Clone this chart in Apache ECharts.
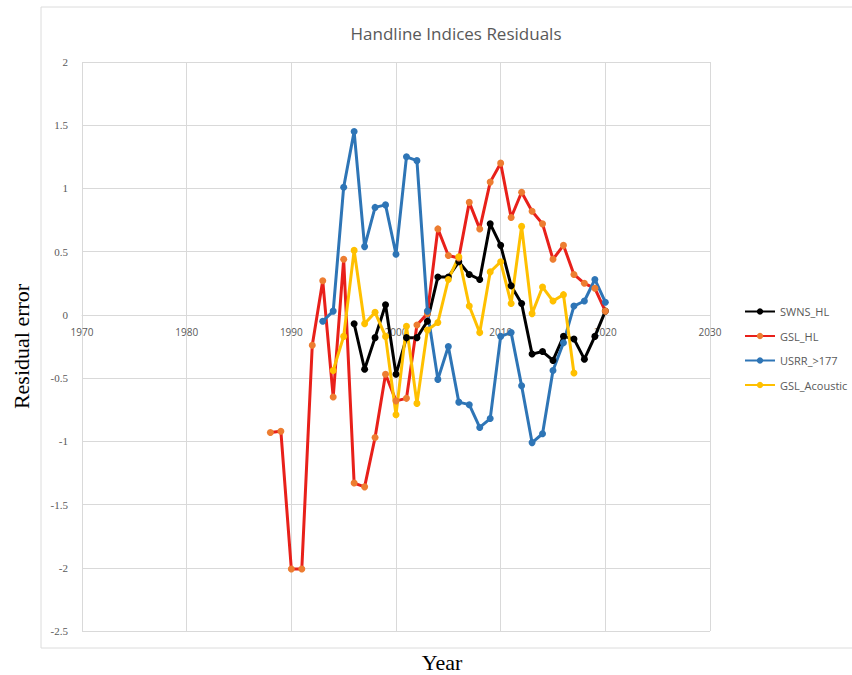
<!DOCTYPE html>
<html>
<head>
<meta charset="utf-8">
<script src="https://cdn.jsdelivr.net/npm/echarts@6/dist/echarts.min.js"></script>
<style>
html,body{margin:0;padding:0;background:#fff;}
#c{width:852px;height:675px;}
</style>
</head>
<body>
<div id="c"></div>
<script>
var xTicks = [1970, 1980, 1990, 2000, 2010, 2020, 2030];
var yTicks = [-2.5, -2, -1.5, -1, -0.5, 0, 0.5, 1, 1.5, 2];

var swnsYears = [1996,1997,1998,1999,2000,2001,2002,2003,2004,2005,2006,2007,2008,2009,2010,2011,2012,2013,2014,2015,2016,2017,2018,2019,2020];
var swnsValues = [-0.07,-0.43,-0.18,0.08,-0.47,-0.18,-0.18,-0.05,0.30,0.30,0.42,0.32,0.28,0.72,0.55,0.23,0.09,-0.31,-0.29,-0.36,-0.17,-0.19,-0.35,-0.17,0.03];

var gslHlYears = [1988,1989,1990,1991,1992,1993,1994,1995,1996,1997,1998,1999,2000,2001,2002,2003,2004,2005,2006,2007,2008,2009,2010,2011,2012,2013,2014,2015,2016,2017,2018,2019,2020];
var gslHlValues = [-0.93,-0.92,-2.01,-2.01,-0.24,0.27,-0.65,0.44,-1.33,-1.36,-0.97,-0.47,-0.68,-0.66,-0.08,0.01,0.68,0.47,0.45,0.89,0.68,1.05,1.20,0.77,0.97,0.82,0.72,0.44,0.55,0.32,0.25,0.21,0.03];

var usrrYears = [1993,1994,1995,1996,1997,1998,1999,2000,2001,2002,2003,2004,2005,2006,2007,2008,2009,2010,2011,2012,2013,2014,2015,2016,2017,2018,2019,2020];
var usrrValues = [-0.05,0.03,1.01,1.45,0.54,0.85,0.87,0.48,1.25,1.22,0.03,-0.51,-0.25,-0.69,-0.71,-0.89,-0.82,-0.17,-0.14,-0.56,-1.01,-0.94,-0.44,-0.22,0.07,0.11,0.28,0.10];

var gslAcYears = [1994,1995,1996,1997,1998,1999,2000,2001,2002,2003,2004,2005,2006,2007,2008,2009,2010,2011,2012,2013,2014,2015,2016,2017];
var gslAcValues = [-0.44,-0.17,0.51,-0.07,0.02,-0.17,-0.79,-0.09,-0.70,-0.12,-0.06,0.28,0.46,0.07,-0.14,0.34,0.42,0.09,0.70,0.01,0.22,0.11,0.16,-0.46];

function pairs(xs, ys){ return xs.map(function(x,i){ return [x, ys[i]]; }); }

var chart = echarts.init(document.getElementById('c'), null, {renderer:'svg'});
var lineW = 3, sym = 7;
function mk(name, xs, ys, lineColor, markColor){
  return {
    name: name, type: 'line', data: pairs(xs, ys),
    symbol: 'circle', symbolSize: sym, showSymbol: true,
    lineStyle: {color: lineColor, width: lineW},
    itemStyle: {color: markColor},
    emphasis: {disabled: true},
    animation: false
  };
}
var option = {
  animation: false,
  graphic: [{
    type: 'rect', shape: {x: 41, y: 7, width: 830, height: 641},
    style: {fill: 'none', stroke: '#dcdcdc', lineWidth: 1}, silent: true, z: -10
  }],
  title: [{
    text: 'Handline Indices Residuals', left: 451, top: 20, textAlign: 'center',
    textStyle: {fontFamily: 'Open Sans', fontSize: 17, fontWeight: 'normal', color: '#595959'}
  },{
    text: 'Year', left: 437, top: 646, textAlign: 'center',
    textStyle: {fontFamily: 'Liberation Serif', fontSize: 22, fontWeight: 'normal', color: '#000'}
  }],
  legend: {
    orient: 'vertical', left: 739, top: 301, itemGap: 13.5,
    itemWidth: 30, itemHeight: 8,
    textStyle: {fontFamily: 'Open Sans', fontSize: 11, color: '#595959'},
    data: ['SWNS_HL','GSL_HL','USRR_>177','GSL_Acoustic']
  },
  grid: {left: 82, right: 142, top: 62, bottom: 44, containLabel: false},
  xAxis: {
    type: 'value', min: xTicks[0], max: xTicks[xTicks.length-1], interval: 10,
    offset: 0,
    axisLine: {show: true, onZero: false, lineStyle: {color: '#d9d9d9', width: 1}},
    axisTick: {show: false},
    axisLabel: {margin: 12, fontFamily: 'Open Sans', fontSize: 10, color: '#595959',
      formatter: function(v){ return String(v); }},
    splitLine: {show: true, lineStyle: {color: '#d9d9d9', width: 1}}
  },
  yAxis: {
    type: 'value', min: yTicks[0], max: yTicks[yTicks.length-1], interval: 0.5,
    name: 'Residual error', nameLocation: 'middle', nameGap: 50, nameRotate: 90,
    nameTextStyle: {fontFamily: 'Liberation Serif', fontSize: 22, color: '#000'},
    axisLine: {show: false},
    axisTick: {show: false},
    axisLabel: {margin: 14, fontFamily: 'Liberation Serif', fontSize: 11, color: '#595959'},
    splitLine: {show: true, lineStyle: {color: '#d9d9d9', width: 1}}
  },
  series: [
    mk('SWNS_HL', swnsYears, swnsValues, '#000000', '#000000'),
    mk('GSL_HL', gslHlYears, gslHlValues, '#e8201a', '#ed7d31'),
    mk('USRR_>177', usrrYears, usrrValues, '#2e75b6', '#2e75b6'),
    mk('GSL_Acoustic', gslAcYears, gslAcValues, '#ffc000', '#ffc000')
  ]
};
chart.setOption(option);
// place the x axis on the y = 0 line using the library's own scale
var zeroPx = chart.convertToPixel({yAxisIndex: 0}, 0);
var bottomPx = chart.convertToPixel({yAxisIndex: 0}, yTicks[0]);
chart.setOption({xAxis: {offset: zeroPx - bottomPx}});
</script>
</body>
</html>
